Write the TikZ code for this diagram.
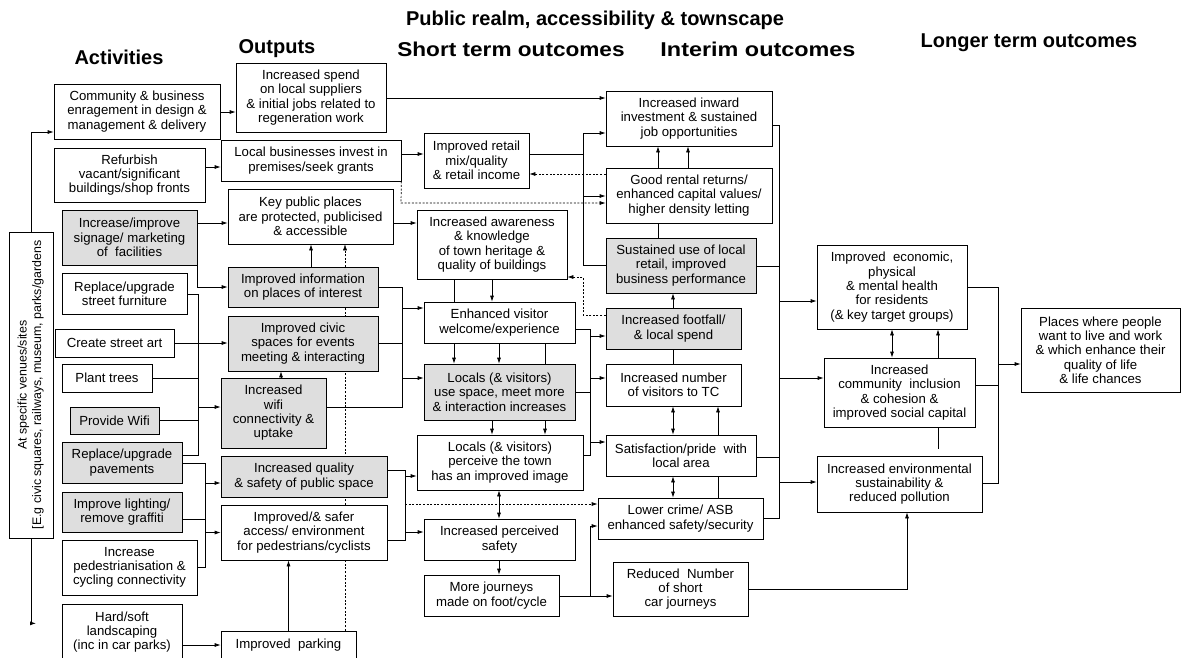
\documentclass[tikz,border=0pt]{standalone}
\usepackage{fontspec}
\setmainfont{Liberation Sans}
\usetikzlibrary{arrows.meta,backgrounds}
\tikzset{
  box/.style={draw, line width=0.7pt, fill=white, align=center, inner sep=0pt, font=\fontsize{13.2}{14.3}\selectfont},
  shaded/.style={box, fill=black!13},
  arr/.style={-{Latex[length=6pt,width=4pt]}},
  dbl/.style={{Latex[length=6pt,width=4pt]}-{Latex[length=6pt,width=4pt]}},
  dotarr/.style={arr, dash pattern=on 2pt off 1.6pt},
  head/.style={font=\fontsize{20}{24}\selectfont\bfseries},
}
\begin{document}
\begin{tikzpicture}[x=1pt,y=-1pt,line width=0.7pt]
\useasboundingbox (0,0) rectangle (1182,657);
% titres
\node[head] (title) at (595,20) {Public realm, accessibility \& townscape};
\node[head] (hact) at (119,57) {Activities};
\node[head] (hout) at (277,49) {Outputs};
\node[head] (hshort) at (511,49) {\scalebox{1.13}[1]{Short term outcomes}};
\node[head] (hint) at (758,49) {\scalebox{1.17}[1]{Interim outcomes}};
\node[head] (hlong) at (1029,43) {Longer term outcomes};
% activities
\node[box, minimum width=44pt, minimum height=306pt, font=\fontsize{12.4}{14.3}\selectfont] (venues) at (31,385) {\rotatebox{90}{\begin{tabular}{@{}c@{}}At specific venues/sites\\{[}E.g civic squares, railways, museum, parks/gardens\end{tabular}}};
\node[box, minimum width=166pt, minimum height=55pt] (comm) at (137,111.5) {Community \& business\\enragement in design \&\\management \& delivery};
\node[box, minimum width=151pt, minimum height=54pt] (refurb) at (129.5,175) {Refurbish\\vacant/significant\\buildings/shop fronts};
\node[shaded, minimum width=135pt, minimum height=55pt] (signage) at (129.5,237.5) {Increase/improve\\signage/ marketing\\of \ facilities};
\node[box, minimum width=125pt, minimum height=41pt] (furniture) at (124.5,293.5) {Replace/upgrade\\street furniture};
\node[box, minimum width=119pt, minimum height=28pt] (streetart) at (114.5,343) {Create street art};
\node[box, minimum width=90pt, minimum height=28pt] (trees) at (107,378) {Plant trees};
\node[shaded, minimum width=89pt, minimum height=27pt] (wifi) at (114.5,420.5) {Provide Wifi};
\node[shaded, minimum width=120pt, minimum height=41pt] (pavements) at (122,462.5) {Replace/upgrade\\pavements};
\node[shaded, minimum width=120pt, minimum height=40pt] (lighting) at (122,512) {Improve lighting/\\remove graffiti};
\node[box, minimum width=135pt, minimum height=55pt] (pedestrian) at (129.5,567.5) {Increase\\pedestrianisation \&\\cycling connectivity};
\node[box, minimum width=120pt, minimum height=56pt] (landscape) at (122,632) {Hard/soft\\landscaping\\(inc in car parks)};
% outputs
\node[box, minimum width=150pt, minimum height=69pt] (spend) at (311,97.5) {Increased spend\\on local suppliers\\\& initial jobs related to\\regeneration work};
\node[box, minimum width=180pt, minimum height=41pt] (localbiz) at (311,160.5) {Local businesses invest in\\premises/seek grants};
\node[box, minimum width=165pt, minimum height=55pt] (keyplaces) at (310.5,216.5) {Key public places\\are protected, publicised\\\& accessible};
\node[shaded, minimum width=150pt, minimum height=40pt] (info) at (303,287) {Improved information\\on places of interest};
\node[shaded, minimum width=150pt, minimum height=55pt] (civic) at (303,343.5) {Improved civic\\spaces for events\\meeting \& interacting};
\node[shaded, minimum width=105pt, minimum height=70pt] (wificonn) at (273.5,413) {Increased\\wifi\\connectivity \&\\uptake};
\node[shaded, minimum width=166pt, minimum height=41pt] (quality) at (304,476.5) {Increased quality\\\& safety of public space};
\node[box, minimum width=166pt, minimum height=55pt] (access) at (304,532.5) {Improved/\& safer\\access/ environment\\for pedestrians/cyclists};
\node[box, minimum width=135pt, minimum height=28pt] (parking) at (288.5,645) {Improved \ parking};
% short term outcomes
\node[box, minimum width=105pt, minimum height=55pt] (retail) at (476.5,160.5) {Improved retail\\mix/quality\\\& retail income};
\node[box, minimum width=150pt, minimum height=69pt] (awareness) at (492,244.5) {Increased awareness\\\& knowledge\\of town heritage \&\\quality of buildings};
\node[box, minimum width=151pt, minimum height=41pt] (enhanced) at (499.5,322.5) {Enhanced visitor\\welcome/experience};
\node[shaded, minimum width=151pt, minimum height=56pt] (localsuse) at (499.5,392) {Locals (\& visitors)\\use space, meet more\\\& interaction increases};
\node[box, minimum width=166pt, minimum height=55pt] (perceive) at (500,462.5) {Locals (\& visitors)\\perceive the town\\has an improved image};
\node[box, minimum width=151pt, minimum height=41pt] (safety) at (499.5,539.5) {Increased perceived\\safety};
\node[box, minimum width=135pt, minimum height=41pt] (journeys) at (491.5,595.5) {More journeys\\made on foot/cycle};
% interim outcomes
\node[box, minimum width=166pt, minimum height=55pt] (inward) at (689,118.5) {Increased inward\\investment \& sustained\\job opportunities};
\node[box, minimum width=166pt, minimum height=55pt] (rental) at (689,195.5) {Good rental returns/\\enhanced capital values/\\higher density letting};
\node[shaded, minimum width=150pt, minimum height=55pt] (sustained) at (681,265.5) {Sustained use of local\\retail, improved\\business performance};
\node[shaded, minimum width=135pt, minimum height=41pt] (footfall) at (673.5,328.5) {Increased footfall/\\\& local spend};
\node[box, minimum width=135pt, minimum height=42pt] (visitors) at (673.5,385) {Increased number\\of visitors to TC};
\node[box, minimum width=150pt, minimum height=41pt] (satisfaction) at (681,455.5) {Satisfaction/pride \ with\\local area};
\node[box, minimum width=165pt, minimum height=41pt] (crime) at (680.5,518.5) {Lower crime/ ASB\\enhanced safety/security};
\node[box, minimum width=135pt, minimum height=54pt] (reduced) at (680.5,589) {Reduced \ Number\\of short\\car journeys};
% longer term outcomes
\node[box, minimum width=150pt, minimum height=84pt] (health) at (892,287) {Improved \ economic,\\physical\\\& mental health\\for residents\\(\& key target groups)};
\node[box, minimum width=151pt, minimum height=69pt] (inclusion) at (899.5,392.5) {Increased\\community \ inclusion\\\& cohesion \&\\improved social capital};
\node[box, minimum width=165pt, minimum height=56pt] (environment) at (899.5,484) {Increased environmental\\sustainability \&\\reduced pollution};
\node[box, minimum width=159pt, minimum height=84pt] (places) at (1100.5,350) {Places where people\\want to live and work\\\& which enhance their\\quality of life\\\& life chances};

% activities -> outputs
\draw[arr] (venues.north) |- (comm.west |- 0,132);
\draw[arr] (venues.south) |- ++(5,85);
\draw[arr] (comm.east |- 0,112) -- (spend.west |- 0,112);
\draw[arr] (refurb.east |- 0,167) -- (localbiz.west |- 0,167);
\draw[arr] (signage.east |- 0,223) -- (keyplaces.west |- 0,223);
\draw[arr] (signage.south east) |- (info.west);
\draw (furniture.east |- 0,294) -- (198,294) -- (198,455) -- (pavements.east |- 0,455);
\draw[arr] (streetart.east) -- (civic.west |- streetart.east);
\draw (trees.east) -- (198,378);
\draw (wifi.east) -- (198,420.5);
\draw[arr] (198,407) -- (wificonn.west |- 0,407);
\draw (pavements.east |- 0,463) -- (205,463) -- (205,567.5) -- (pedestrian.east);
\draw (lighting.east |- 0,519) -- (205,519);
\draw[arr] (205,483) -- (quality.west |- 0,483);
\draw[arr] (205,532.5) -- (access.west);
\draw[arr] (landscape.east |- 0,645) -- (parking.west);
% outputs
\draw[arr] (parking.north) -- (parking.north |- access.south);
\draw[arr] (info.north -| 311,0) -- (keyplaces.south -| 311,0);
\draw[arr] (wificonn.north -| 281,0) -- (civic.south -| 281,0);
\begin{scope}[on background layer]
\draw[dotarr] (parking.north -| 345,0) -- (keyplaces.south -| 345,0);
\end{scope}
% outputs -> short term
\draw[arr] (spend.east |- 0,98) -- (inward.west |- 0,98);
\draw[arr] (localbiz.east |- 0,154) -- (retail.west |- 0,154);
\draw[dotarr] (localbiz.south east) -- (401,203) -- (rental.west |- 0,203);
\draw[arr] (keyplaces.east |- 0,223) -- (awareness.west |- 0,223);
\draw (info.east) -- (402,287) -- (402,407) -- (wificonn.east |- 0,407);
\draw (civic.east) -- (402,343.5);
\draw[arr] (402,308) -- (enhanced.west |- 0,308);
\draw[arr] (402,378) -- (localsuse.west |- 0,378);
\draw (quality.east |- 0,470) -- (405,470) -- (405,540) -- (access.east |- 0,540);
\draw[arr] (405,476) -- (perceive.west |- 0,476);
\draw[arr] (405,532) -- (safety.west |- 0,532);
\draw[dotarr] (405,504) -- (crime.west |- 0,504);
% short term
\draw (awareness.south -| 454,0) -- (enhanced.north -| 454,0);
\draw[arr] (awareness.south -| 492,0) -- (enhanced.north -| 492,0);
\draw[arr] (enhanced.south -| 454,0) -- (localsuse.north -| 454,0);
\draw[arr] (enhanced.south -| 499,0) -- (localsuse.north -| 499,0);
\draw (enhanced.south -| 545,0) -- (localsuse.north -| 545,0);
\draw[arr] (localsuse.south -| 492,0) -- (perceive.north -| 492,0);
\draw[arr] (localsuse.south -| 545,0) -- (perceive.north -| 545,0);
\draw[dbl] (perceive.south -| 499,0) -- (safety.north -| 499,0);
\draw[arr] (safety.south -| 499,0) -- (journeys.north -| 499,0);
% short term -> interim
\draw (enhanced.east |- 0,329) -- (590,329) -- (590,455) -- (perceive.east |- 0,455);
\draw (localsuse.east) -- (590,392);
\draw[arr] (590,336) -- (footfall.west |- 0,336);
\draw[arr] (590,378) -- (visitors.west |- 0,378);
\draw[arr] (590,442) -- (satisfaction.west |- 0,442);
\draw[arr] (journeys.east |- 0,596) -- (reduced.west |- 0,596);
\draw[arr] (590,596) -- (590,526) -- (crime.west |- 0,526);
\draw (retail.east |- 0,154) -- (583,154);
\draw (583,133) -- (583,265) -- (sustained.west |- 0,265);
\draw[arr] (583,133) -- (inward.west |- 0,133);
\draw[arr] (583,196) -- (rental.west |- 0,196);
\draw[dotarr] (rental.west |- 0,174) -- (retail.east |- 0,174);
\draw[dotarr] (footfall.west |- 0,315) -- (583,315) -- (583,277) -- (awareness.east |- 0,277);
% interim
\draw[arr] (rental.north -| 658,0) -- (inward.south -| 658,0);
\draw[arr] (rental.north -| 688,0) -- (inward.south -| 688,0);
\draw (sustained.north -| 658,0) -- (rental.south -| 658,0);
\draw[arr] (footfall.north -| 673,0) -- (sustained.south -| 673,0);
\draw (visitors.north -| 673,0) -- (footfall.south -| 673,0);
\draw[dbl] (satisfaction.north -| 673,0) -- (visitors.south -| 673,0);
\draw[arr] (satisfaction.north -| 718,0) -- (visitors.south -| 718,0);
\draw[dbl] (crime.north -| 673,0) -- (satisfaction.south -| 673,0);
\draw (crime.north -| 718,0) -- (satisfaction.south -| 718,0);
% interim -> longer term
\draw (inward.east |- 0,125) -- (779,125) -- (779,518) -- (crime.east |- 0,518);
\draw (sustained.east |- 0,266) -- (779,266);
\draw (satisfaction.east |- 0,457) -- (779,457);
\draw[arr] (779,301) -- (health.west |- 0,301);
\draw[arr] (779,378) -- (inclusion.west |- 0,378);
\draw[arr] (779,482) -- (environment.west |- 0,482);
\draw[arr] (reduced.east |- 0,589) -- (907,589) -- (environment.south -| 907,0);
% longer term
\draw[dbl] (inclusion.north -| 892,0) -- (health.south -| 892,0);
\draw[arr] (inclusion.north -| 938,0) -- (health.south -| 938,0);
\draw (inclusion.south -| 938,0) -- (938,449);
\draw (health.east |- 0,287) -- (998,287) -- (998,483) -- (environment.east |- 0,483);
\draw (inclusion.east |- 0,385) -- (998,385);
\draw[arr] (998,364) -- (places.west |- 0,364);
\end{tikzpicture}
\end{document}
